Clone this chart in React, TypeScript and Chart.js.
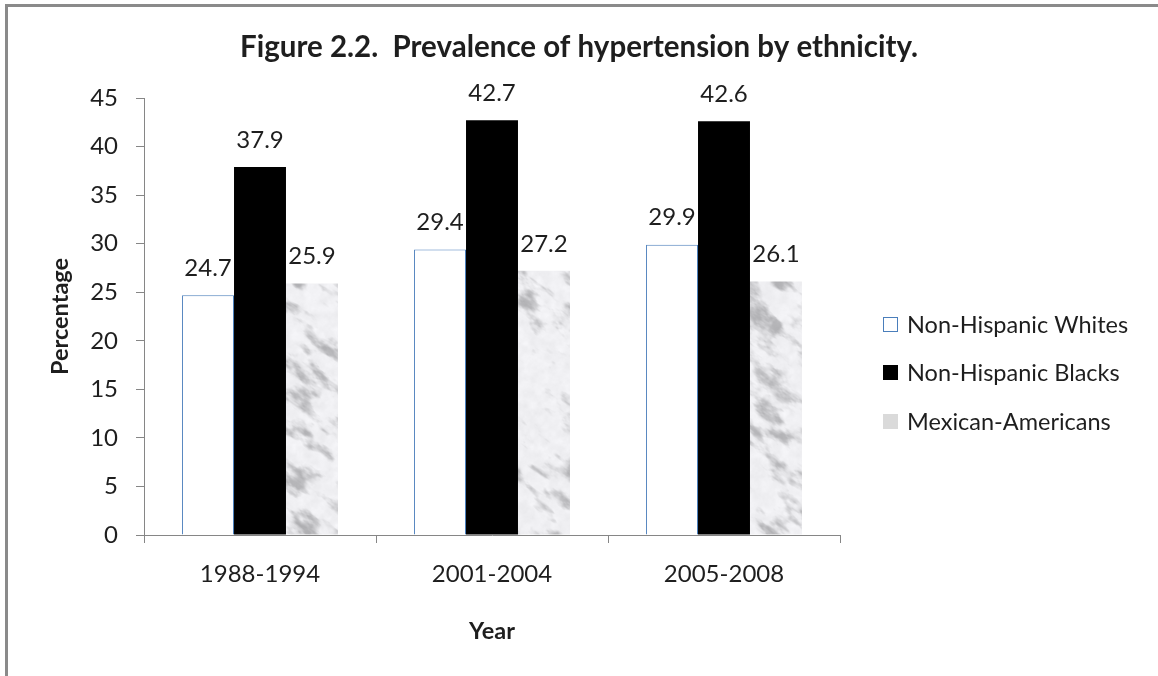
import React, { useEffect, useRef } from "react";
import { Chart, registerables } from "chart.js";

Chart.register(...registerables);

const categories = ["1988-1994", "2001-2004", "2005-2008"];
const whites = [24.7, 29.4, 29.9];
const blacks = [37.9, 42.7, 42.6];
const mexican = [25.9, 27.2, 26.1];
const seriesLabels = ["Non-Hispanic Whites", "Non-Hispanic Blacks", "Mexican-Americans"];
const titleText = "Figure 2.2.  Prevalence of hypertension by ethnicity.";
const yTitle = "Percentage";
const xTitle = "Year";

const FONT = "Lato, 'Open Sans', sans-serif";
const TEXT = "#1e1e1e";
const AXIS = "#868686";
const TICK_SIZE = 24;
const LABEL_SIZE = 24;
const LEGEND_SIZE = 23.5;
const TITLE_SIZE = 29.5;
const AXIS_TITLE_SIZE = 23.5;

function hash(ix: number, iy: number): number {
  const s = Math.sin(ix * 127.1 + iy * 311.7) * 43758.5453;
  return s - Math.floor(s);
}

function valueNoise(x: number, y: number): number {
  const ix = Math.floor(x);
  const iy = Math.floor(y);
  const fx = x - ix;
  const fy = y - iy;
  const ux = fx * fx * (3 - 2 * fx);
  const uy = fy * fy * (3 - 2 * fy);
  const a = hash(ix, iy);
  const b = hash(ix + 1, iy);
  const c = hash(ix, iy + 1);
  const d = hash(ix + 1, iy + 1);
  return a + (b - a) * ux + (c - a) * uy + (a - b - c + d) * ux * uy;
}

function fbm(x: number, y: number): number {
  let v = 0;
  let amp = 0.5;
  let f = 1;
  for (let o = 0; o < 4; o++) {
    v += amp * valueNoise(x * f, y * f);
    f *= 2;
    amp *= 0.5;
  }
  return v / 0.9375;
}

function makeMarble(): CanvasPattern | string {
  const c = document.createElement("canvas");
  const w = 1158;
  const h = 676;
  c.width = w;
  c.height = h;
  const ctx = c.getContext("2d");
  if (!ctx) return "#dcdcdc";
  const img = ctx.createImageData(w, h);
  for (let y = 0; y < h; y++) {
    for (let x = 0; x < w; x++) {
      const rx = (x * 0.8 + y * 0.6) / 24;
      const ry = (-x * 0.6 + y * 0.8) / 12;
      const n = fbm(rx, ry);
      const n2 = fbm(x / 7 + 40, y / 7 + 17);
      let t = (n - 0.48) / 0.34;
      t = Math.max(0, Math.min(1, t));
      t = t * t * (3 - 2 * t);
      let v = 240 - 62 * t - 16 * (n2 - 0.5);
      v = Math.max(160, Math.min(248, v));
      const i = (y * w + x) * 4;
      img.data[i] = v;
      img.data[i + 1] = v;
      img.data[i + 2] = v + 3;
      img.data[i + 3] = 255;
    }
  }
  ctx.putImageData(img, 0, 0);
  const p = ctx.createPattern(c, "no-repeat");
  return p || "#dcdcdc";
}

const annotPlugin = {
  id: "annot",
  afterDatasetsDraw(chart: any) {
    const ctx = chart.ctx as CanvasRenderingContext2D;
    const area = chart.chartArea;
    ctx.save();
    // value labels
    ctx.font = `${LABEL_SIZE}px ${FONT}`;
    ctx.fillStyle = TEXT;
    ctx.textAlign = "center";
    ctx.textBaseline = "middle";
    chart.data.datasets.forEach((ds: any, i: number) => {
      const meta = chart.getDatasetMeta(i);
      meta.data.forEach((el: any, j: number) => {
        ctx.fillText(Number(ds.data[j]).toFixed(1), el.x, el.y - 27);
      });
    });
    // title
    ctx.font = `bold ${TITLE_SIZE}px ${FONT}`;
    ctx.fillText(titleText, chart.width / 2, 47);
    // legend
    const lx = area.right + 43;
    const ly = [325, 373, 422];
    ctx.font = `${LEGEND_SIZE}px ${FONT}`;
    ctx.textAlign = "left";
    chart.data.datasets.forEach((ds: any, i: number) => {
      const y = ly[i];
      ctx.fillStyle = ds.legendColor || ds.backgroundColor;
      ctx.fillRect(lx, y - 8, 15, 15);
      if (ds.borderWidth) {
        ctx.strokeStyle = ds.borderColor;
        ctx.lineWidth = 1;
        ctx.strokeRect(lx + 0.5, y - 7.5, 14, 14);
      }
      ctx.fillStyle = TEXT;
      ctx.fillText(ds.label, lx + 24, y);
    });
    ctx.restore();
  },
};

export default function App() {
  const ref = useRef<HTMLCanvasElement | null>(null);
  useEffect(() => {
    if (!ref.current) return;
    const marble = makeMarble();
    const chart = new Chart(ref.current, {
      type: "bar",
      data: {
        labels: categories,
        datasets: [
          {
            label: seriesLabels[0],
            data: whites,
            backgroundColor: "#ffffff",
            borderColor: "#4a7ebb",
            borderWidth: 1,
          },
          {
            label: seriesLabels[1],
            data: blacks,
            backgroundColor: "#000000",
            borderWidth: 0,
          },
          {
            label: seriesLabels[2],
            data: mexican,
            backgroundColor: marble as any,
            legendColor: "#dadada",
            borderWidth: 0,
          } as any,
        ],
      },
      options: {
        animation: false,
        responsive: false,
        maintainAspectRatio: false,
        devicePixelRatio: 1,
        layout: { padding: { left: 0, top: 98, right: 318, bottom: 0 } },
        plugins: {
          legend: { display: false },
          title: { display: false },
          tooltip: { enabled: false },
        },
        datasets: {
          bar: { categoryPercentage: 0.672, barPercentage: 1 },
        },
        scales: {
          x: {
            grid: {
              offset: true,
              drawOnChartArea: false,
              drawTicks: true,
              tickLength: 8,
              color: AXIS,
            },
            border: { color: AXIS, width: 1 },
            ticks: {
              color: TEXT,
              font: { family: FONT, size: TICK_SIZE },
              padding: 17,
              maxRotation: 0,
            },
            title: {
              display: true,
              text: xTitle,
              color: TEXT,
              font: { family: FONT, size: AXIS_TITLE_SIZE, weight: "bold" },
              padding: { top: 30, bottom: 30 },
            },
            afterFit: (s: any) => {
              s.height = 141;
            },
          },
          y: {
            min: 0,
            max: 45,
            grid: {
              drawOnChartArea: false,
              drawTicks: true,
              tickLength: 8,
              color: AXIS,
            },
            border: { color: AXIS, width: 1 },
            ticks: {
              stepSize: 5,
              color: TEXT,
              font: { family: FONT, size: TICK_SIZE },
              padding: 18,
            },
            title: {
              display: true,
              text: yTitle,
              color: TEXT,
              font: { family: FONT, size: AXIS_TITLE_SIZE, weight: "bold" },
              padding: { top: 46, bottom: 46 },
            },
            afterFit: (s: any) => {
              s.width = 144;
            },
          },
        },
      } as any,
      plugins: [annotPlugin],
    });
    return () => chart.destroy();
  }, []);

  return (
    <div
      style={{
        position: "fixed",
        left: 0,
        top: 0,
        width: 1158,
        height: 676,
        overflow: "hidden",
        background: "#ffffff",
      }}
    >
      <div
        style={{
          position: "absolute",
          left: 5,
          top: 4,
          width: 1300,
          height: 800,
          border: "3px solid #8a8a8a",
          boxSizing: "border-box",
        }}
      />
      <canvas
        ref={ref}
        width={1158}
        height={676}
        style={{ position: "absolute", left: 0, top: 0, width: 1158, height: 676 }}
      />
    </div>
  );
}
